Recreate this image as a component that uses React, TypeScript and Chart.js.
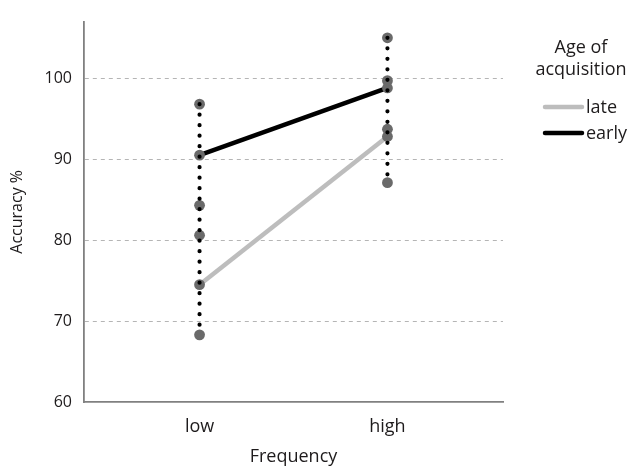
import React, { useEffect, useRef } from 'react';
import { Chart, registerables } from 'chart.js';
Chart.register(...registerables);

const categories = ['low', 'high'];
const lateMean = [74.5, 92.8];
const earlyMean = [90.5, 98.8];
const lateUpper = [80.6, 99.7];
const lateLower = [68.3, 87.1];
const earlyUpper = [96.8, 105.0];
const earlyLower = [84.3, 93.7];
const yTickValues = [60, 70, 80, 90, 100];
const legendTitle = ['Age of', 'acquisition'];
const seriesNames = ['late', 'early'];
const xTitle = 'Frequency';
const yTitle = 'Accuracy %';

const FONT = "'Open Sans', sans-serif";
const TEXT = '#1e1b1c';
const LATE_COLOR = '#bdbdbd';
const EARLY_COLOR = '#000000';

const legendPlugin = {
  id: 'customLegend',
  afterDraw(chart: any) {
    const ctx = chart.ctx;
    ctx.save();
    ctx.fillStyle = TEXT;
    ctx.font = `18px ${FONT}`;
    ctx.textAlign = 'center';
    ctx.textBaseline = 'middle';
    const cx = 581;
    legendTitle.forEach((t, i) => ctx.fillText(t, cx, 48 + i * 22));
    const items = [
      { name: seriesNames[0], color: LATE_COLOR, y: 107 },
      { name: seriesNames[1], color: EARLY_COLOR, y: 133 },
    ];
    items.forEach((it) => {
      ctx.strokeStyle = it.color;
      ctx.lineWidth = 4.5;
      ctx.lineCap = 'round';
      ctx.beginPath();
      ctx.moveTo(545, it.y);
      ctx.lineTo(582, it.y);
      ctx.stroke();
      ctx.textAlign = 'left';
      ctx.fillStyle = TEXT;
      ctx.fillText(it.name, 586, it.y + 1);
    });
    ctx.restore();
  },
};

export default function App() {
  const ref = useRef<HTMLCanvasElement>(null);
  useEffect(() => {
    if (!ref.current) return;
    const pts = (arrs: number[][]) =>
      arrs.flatMap((a) => a.map((y, i) => ({ x: i, y })));
    const rangeLine = (i: number) => {
      const vals = [lateLower[i], lateUpper[i], earlyLower[i], earlyUpper[i], lateMean[i], earlyMean[i]];
      return {
        type: 'line' as const,
        data: [
          { x: i, y: Math.max(...vals) },
          { x: i, y: Math.min(...vals) },
        ],
        showLine: true,
        borderColor: '#000',
        borderWidth: 4.2,
        borderDash: [0, 10.5],
        borderCapStyle: 'round' as const,
        pointRadius: 0,
        order: 0,
      };
    };
    const chart = new Chart(ref.current, {
      type: 'scatter',
      data: {
        datasets: [
          ...categories.map((_, i) => rangeLine(i)),
          {
            type: 'scatter',
            data: pts([lateMean, earlyMean, lateUpper, lateLower, earlyUpper, earlyLower]),
            pointRadius: 5.4,
            pointBackgroundColor: '#6a6a6a',
            pointBorderWidth: 0,
            order: 1,
          },
          {
            type: 'line',
            label: seriesNames[0],
            data: lateMean.map((y, i) => ({ x: i, y })),
            showLine: true,
            borderColor: LATE_COLOR,
            borderWidth: 4.5,
            pointRadius: 0,
            order: 2,
          },
          {
            type: 'line',
            label: seriesNames[1],
            data: earlyMean.map((y, i) => ({ x: i, y })),
            showLine: true,
            borderColor: EARLY_COLOR,
            borderWidth: 4.5,
            pointRadius: 0,
            order: 2,
          },
        ] as any,
      },
      options: {
        responsive: false,
        animation: false,
        layout: { padding: { left: 0, right: 128, top: 13, bottom: 0 } },
        plugins: { legend: { display: false }, tooltip: { enabled: false } },
        scales: {
          x: {
            type: 'linear',
            min: -0.615,
            max: 1.615,
            afterBuildTicks: (s: any) => {
              s.ticks = categories.map((_, i) => ({ value: i }));
            },
            afterFit: (s: any) => {
              s.height = 68;
            },
            ticks: {
              callback: (v: any) => categories[v as number] ?? '',
              font: { family: FONT, size: 18 },
              color: TEXT,
              padding: 14,
              maxRotation: 0,
            },
            grid: { display: false, drawTicks: false },
            border: { color: '#808080', width: 1.8 },
            title: {
              display: true,
              text: xTitle,
              font: { family: FONT, size: 18 },
              color: TEXT,
              padding: { top: 0, bottom: 2 },
            },
          },
          y: {
            type: 'linear',
            min: 60,
            max: 107,
            afterBuildTicks: (s: any) => {
              s.ticks = yTickValues.map((v) => ({ value: v }));
            },
            afterFit: (s: any) => {
              s.width = 84;
            },
            ticks: {
              font: { family: FONT, size: 16 },
              color: TEXT,
              padding: 12,
            },
            grid: {
              color: (c: any) => (c.tick && c.tick.value === 60 ? 'rgba(0,0,0,0)' : '#b5b5b5'),
              lineWidth: 1,
              drawTicks: false,
            },
            border: { color: '#808080', width: 1.8, dash: [4, 4] },
            title: {
              display: true,
              text: yTitle,
              font: { family: FONT, size: 16 },
              color: TEXT,
              padding: { top: 8, bottom: 0 },
            },
          },
        },
      },
      plugins: [legendPlugin],
    });
    return () => chart.destroy();
  }, []);
  return (
    <div style={{ position: 'absolute', left: 0, top: 0, width: 631, height: 470, background: '#fff' }}>
      <canvas ref={ref} width={631} height={470} style={{ display: 'block' }} />
    </div>
  );
}
